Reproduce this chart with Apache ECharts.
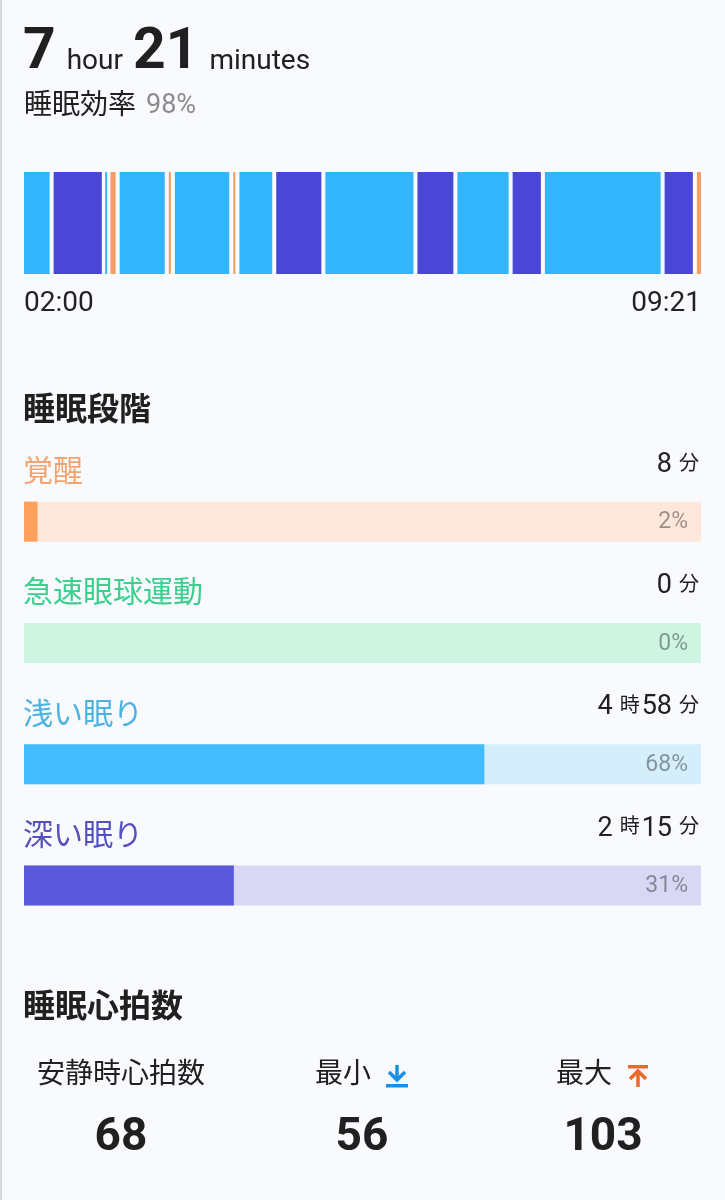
<!DOCTYPE html>
<html>
<head>
<meta charset="utf-8">
<script src="https://cdn.jsdelivr.net/npm/echarts@6/dist/echarts.min.js"></script>
<style>
    html, body {margin: 0; padding: 0; background: #f9fafd;}
    #main {width: 725px; height: 1200px;}
</style>
</head>
<body>
<div id="main"></div>
<script>
    // sleep timeline, minutes from 02:00
    var segStarts = [0, 18, 52, 55, 61, 93, 97, 135, 139, 163, 195, 255, 281, 317, 338, 416, 437];
    var segEnds = [18, 52, 55, 61, 93, 97, 135, 139, 163, 195, 255, 281, 317, 338, 416, 437, 441];
    var segStages = ['light', 'deep', 'light', 'awake', 'light', 'awake', 'light', 'awake', 'light',
        'deep', 'light', 'deep', 'light', 'deep', 'light', 'deep', 'awake'];
    var totalMinutes = 441;
    var timeLabels = ['02:00', '09:21'];

    // stage summary
    var stageNames = ['覚醒', '急速眼球運動', '浅い眠り', '深い眠り'];
    var stageMinutes = [8, 0, 298, 135];
    var stagePercents = [2, 0, 68, 31];

    // heart rate
    var hrLabels = ['安静時心拍数', '最小', '最大'];
    var hrValues = [68, 56, 103];

    var FONT = 'Roboto, "Noto Sans CJK JP", sans-serif';
    var segColors = {light: '#33b5fd', deep: '#4a47d6', awake: '#f1a062'};
    var fillColors = ['#ffa05c', '#3fd494', '#42bcfd', '#5b58dd'];
    var trackColors = ['#fde7db', '#cef5e2', '#d4eefb', '#d9d7f4'];
    var nameColors = ['#f2a46e', '#3ccf8e', '#4cb2e2', '#5450bf'];

    function fmtDuration(m) {
        var h = Math.floor(m / 60), mm = m % 60;
        if (h > 0) return '{n|' + h + '}{u|時}{n|' + mm + '}{u|分}';
        return '{n|' + mm + '}{u|分}';
    }

    var chart = echarts.init(document.getElementById('main'));
    var option = {
        backgroundColor: '#f9fafd',
        animation: false,
        textStyle: {fontFamily: FONT},
        grid: [
            {left: 24, right: 24, top: 172, height: 102},
            {left: 24, right: 24, top: 461, height: 485}
        ],
        xAxis: [
            {
                type: 'value', gridIndex: 0, min: 0, max: totalMinutes,
                axisLine: {show: false}, axisTick: {show: false}, splitLine: {show: false},
                axisLabel: {
                    customValues: [0, totalMinutes],
                    alignMinLabel: 'left', alignMaxLabel: 'right',
                    margin: 16, fontSize: 28, color: '#222', fontFamily: FONT,
                    formatter: function (v) { return v === 0 ? timeLabels[0] : timeLabels[1]; }
                }
            },
            {type: 'value', gridIndex: 1, min: 0, max: 100, show: false}
        ],
        yAxis: [
            {type: 'value', gridIndex: 0, min: 0, max: 1, show: false},
            {type: 'category', gridIndex: 1, inverse: true, data: stageNames, show: false}
        ],
        series: [
            {
                type: 'custom',
                xAxisIndex: 0, yAxisIndex: 0,
                data: segStarts.map(function (s, i) { return [s, segEnds[i], i]; }),
                renderItem: function (params, api) {
                    var s = api.value(0), e = api.value(1);
                    var p0 = api.coord([s, 1]), p1 = api.coord([e, 0]);
                    var x0 = s === 0 ? p0[0] : p0[0] + 2;
                    var x1 = e === totalMinutes ? p1[0] : p1[0] - 2;
                    if (x1 - x0 < 2) {
                        var c = (p0[0] + p1[0]) / 2;
                        x0 = c - 1;
                        x1 = c + 1;
                    }
                    return {
                        type: 'rect',
                        shape: {x: x0, y: p0[1], width: x1 - x0, height: p1[1] - p0[1]},
                        style: {fill: segColors[segStages[api.value(2)]]}
                    };
                }
            },
            {
                type: 'bar',
                xAxisIndex: 1, yAxisIndex: 1,
                barWidth: 40,
                barGap: '-100%',
                silent: true,
                data: stageNames.map(function (n, i) {
                    return {value: 100, itemStyle: {color: trackColors[i]}};
                }),
                label: {
                    show: true, position: 'insideRight', offset: [-8, 1],
                    fontSize: 23, color: 'rgba(0,0,0,0.38)', fontFamily: FONT,
                    formatter: function (p) { return stagePercents[p.dataIndex] + '%'; }
                }
            },
            {
                type: 'bar',
                xAxisIndex: 1, yAxisIndex: 1,
                barWidth: 40,
                barGap: '-100%',
                silent: true,
                data: stagePercents.map(function (v, i) {
                    return {value: v, itemStyle: {color: fillColors[i]}};
                })
            }
        ]
    };
    chart.setOption(option);

    var g = [];
    // left edge
    g.push({type: 'rect', shape: {x: 0, y: 0, width: 2, height: 1200}, style: {fill: '#d6d7da'}});
    // header
    g.push({
        type: 'text', left: 23, top: 25,
        style: {
            text: '{b|7}{s|hour}{b|21}{s|minutes}',
            rich: {
                b: {fontSize: 57, fontWeight: 'bold', fontFamily: FONT, fill: '#202020', verticalAlign: 'bottom', lineHeight: 60},
                s: {fontSize: 28, fontFamily: FONT, fill: '#202020', verticalAlign: 'bottom', lineHeight: 60, padding: [0, 10, 6, 11]}
            }
        }
    });
    g.push({
        type: 'text', left: 24, top: 93,
        style: {
            text: '{a|睡眠効率}{p|98%}',
            rich: {
                a: {fontSize: 28, fontFamily: FONT, fill: '#202020', verticalAlign: 'bottom', lineHeight: 32},
                p: {fontSize: 27, fontFamily: FONT, fill: '#8c8c8c', verticalAlign: 'bottom', lineHeight: 32, padding: [0, 0, 1, 10]}
            }
        }
    });
    g.push({type: 'text', left: 23, top: 396, style: {text: '睡眠段階', fontSize: 32, fontWeight: 'bold', fontFamily: FONT, fill: '#202020'}});
    g.push({type: 'text', left: 23, top: 993, style: {text: '睡眠心拍数', fontSize: 32, fontWeight: 'bold', fontFamily: FONT, fill: '#202020'}});

    // stage names and durations
    stageNames.forEach(function (n, i) {
        var c = chart.convertToPixel({xAxisIndex: 1, yAxisIndex: 1}, [0, i]);
        g.push({
            type: 'text', x: 23, y: c[1] - 48,
            style: {text: n, fontSize: 30, fontFamily: FONT, fill: nameColors[i], align: 'left', verticalAlign: 'middle'}
        });
        g.push({
            type: 'text', x: 701, y: c[1] - 43,
            style: {
                text: fmtDuration(stageMinutes[i]), align: 'right', verticalAlign: 'bottom',
                rich: {
                    n: {fontSize: 27, fontFamily: FONT, fill: '#202020', verticalAlign: 'bottom', lineHeight: 32},
                    u: {fontSize: 20, fontFamily: FONT, fill: '#202020', verticalAlign: 'bottom', lineHeight: 32, padding: [0, 2, 4, 7]}
                }
            }
        });
    });

    // heart rate stats
    var colX = [121, 362, 603];
    hrLabels.forEach(function (l, i) {
        var cx = colX[i];
        if (i === 0) {
            g.push({type: 'text', x: cx, y: 1076, style: {text: l, fontSize: 28, fontFamily: FONT, fill: '#202020', align: 'center', verticalAlign: 'middle'}});
        } else {
            g.push({type: 'text', x: cx + 9, y: 1076, style: {text: l, fontSize: 28, fontFamily: FONT, fill: '#202020', align: 'right', verticalAlign: 'middle'}});
            var ix = cx + 35, top = 1065;
            var col = i === 1 ? '#1b8fe0' : '#e8692a';
            if (i === 1) {
                g.push({type: 'line', shape: {x1: ix, y1: top, x2: ix, y2: top + 15}, style: {stroke: col, lineWidth: 3.5}});
                g.push({type: 'polyline', shape: {points: [[ix - 8, top + 7], [ix, top + 15], [ix + 8, top + 7]]}, style: {stroke: col, lineWidth: 3.5, fill: null}});
                g.push({type: 'rect', shape: {x: ix - 11, y: top + 19, width: 22, height: 3.5}, style: {fill: col}});
            } else {
                g.push({type: 'rect', shape: {x: ix - 10, y: top, width: 20, height: 3.5}, style: {fill: col}});
                g.push({type: 'polyline', shape: {points: [[ix - 8, top + 14], [ix, top + 6], [ix + 8, top + 14]]}, style: {stroke: col, lineWidth: 3.5, fill: null}});
                g.push({type: 'line', shape: {x1: ix, y1: top + 6, x2: ix, y2: top + 22}, style: {stroke: col, lineWidth: 3.5}});
            }
        }
        g.push({type: 'text', x: cx, y: 1138, style: {text: String(hrValues[i]), fontSize: 46, fontWeight: 'bold', fontFamily: FONT, fill: '#202020', align: 'center', verticalAlign: 'middle'}});
    });

    chart.setOption({graphic: g});
</script>
</body>
</html>
